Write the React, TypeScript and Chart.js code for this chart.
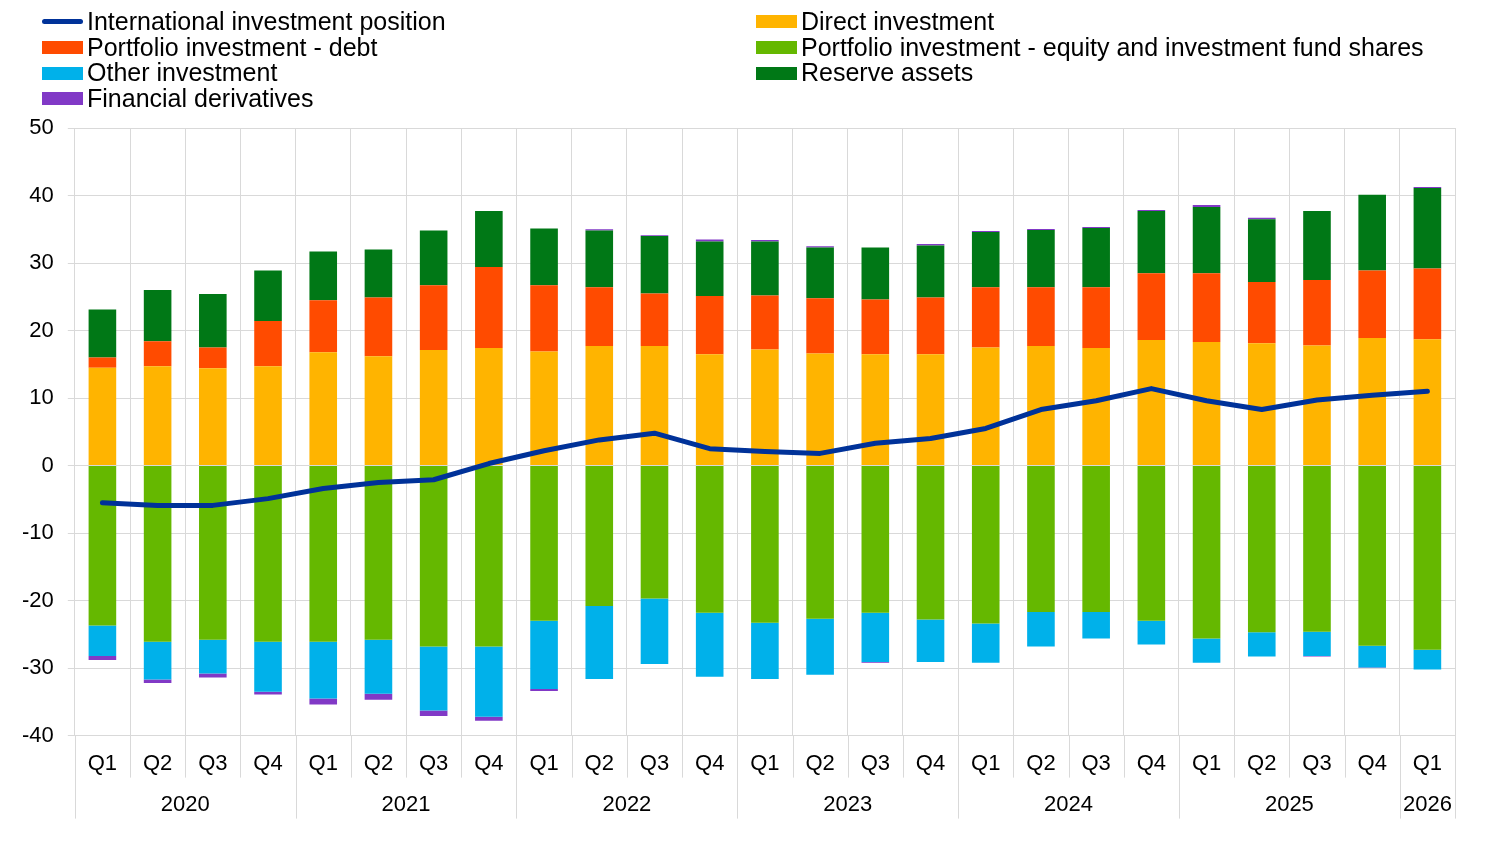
import { useEffect, useRef } from 'react'
import { Chart, registerables } from 'chart.js'

Chart.register(...registerables)

const FONT = '"Liberation Sans", Arial, sans-serif'

const quarters = [
  'Q1', 'Q2', 'Q3', 'Q4', 'Q1', 'Q2', 'Q3', 'Q4', 'Q1', 'Q2', 'Q3', 'Q4', 'Q1',
  'Q2', 'Q3', 'Q4', 'Q1', 'Q2', 'Q3', 'Q4', 'Q1', 'Q2', 'Q3', 'Q4', 'Q1',
]
const years = ['2020', '2021', '2022', '2023', '2024', '2025', '2026']

const iip = [
  -5.5, -5.9, -5.9, -4.9, -3.4, -2.5, -2.1, 0.3, 2.2, 3.8, 4.8, 2.5, 2.1,
  1.8, 3.3, 4.0, 5.5, 8.3, 9.6, 11.4, 9.6, 8.3, 9.7, 10.4, 11.0,
]
const directInv = [
  14.5, 14.7, 14.4, 14.7, 16.8, 16.2, 17.1, 17.4, 16.9, 17.7, 17.7, 16.5, 17.2,
  16.6, 16.5, 16.5, 17.5, 17.7, 17.4, 18.6, 18.3, 18.1, 17.8, 18.9, 18.7,
]
const portDebt = [
  1.5, 3.7, 3.1, 6.7, 7.7, 8.7, 9.6, 12.0, 9.8, 8.7, 7.8, 8.6, 8.0,
  8.2, 8.1, 8.4, 8.9, 8.7, 9.0, 9.9, 10.2, 9.1, 9.7, 10.0, 10.5,
]
const portEquity = [
  -23.7, -26.1, -25.8, -26.1, -26.1, -25.8, -26.8, -26.8, -23.0, -20.8, -19.7, -21.8, -23.3,
  -22.7, -21.8, -22.8, -23.4, -21.7, -21.7, -23.0, -25.6, -24.7, -24.6, -26.7, -27.3,
]
const otherInv = [
  -4.5, -5.6, -5.0, -7.4, -8.4, -8.0, -9.5, -10.4, -10.1, -10.8, -9.7, -9.5, -8.3,
  -8.3, -7.3, -6.3, -5.8, -5.1, -3.9, -3.5, -3.6, -3.6, -3.6, -3.2, -2.9,
]
const reserves = [
  7.1, 7.6, 7.9, 7.5, 7.2, 7.1, 8.1, 8.3, 8.4, 8.4, 8.5, 8.1, 8.0,
  7.5, 7.7, 7.7, 8.2, 8.5, 8.8, 9.2, 9.8, 9.3, 10.2, 11.2, 11.9,
]
const derivatives = [
  -0.6, -0.5, -0.6, -0.4, -0.9, -0.9, -0.8, -0.6, -0.3, 0.2, 0.1, 0.3, 0.2,
  0.2, -0.1, 0.2, 0.15, 0.15, 0.15, 0.15, 0.3, 0.2, -0.1, -0.1, 0.15,
]

const legendItems = [
  { label: 'International investment position', color: '#003299', line: true },
  { label: 'Direct investment', color: '#FFB400' },
  { label: 'Portfolio investment - debt', color: '#FF4B00' },
  { label: 'Portfolio investment - equity and investment fund shares', color: '#65B800' },
  { label: 'Other investment', color: '#00B1EA' },
  { label: 'Reserve assets', color: '#007816' },
  { label: 'Financial derivatives', color: '#8139C6' },
]

const gridColor = '#d9d9d9'

// second level of the x axis: year labels and longer separators
const yearAxis = {
  id: 'yearAxis',
  afterDraw(chart: Chart) {
    const { ctx, chartArea } = chart
    const n = quarters.length
    const step = (chartArea.right - chartArea.left) / n
    ctx.save()
    ctx.strokeStyle = gridColor
    ctx.lineWidth = 1
    for (let i = 0; i <= n; i++) {
      const x = Math.round(chartArea.left + i * step) + 0.5
      const isYear = i % 4 === 0 || i === n
      ctx.beginPath()
      ctx.moveTo(x, chartArea.bottom)
      ctx.lineTo(x, isYear ? chartArea.bottom + 83 : chartArea.bottom + 42)
      ctx.stroke()
    }
    ctx.fillStyle = '#000'
    ctx.font = `22px ${FONT}`
    ctx.textAlign = 'center'
    ctx.textBaseline = 'middle'
    years.forEach((y, k) => {
      const first = k * 4
      const last = Math.min(first + 4, n)
      const cx = chartArea.left + ((first + last) / 2) * step
      ctx.fillText(y, cx, chartArea.bottom + 69)
    })
    ctx.restore()
  },
}

export default function App() {
  const chartRef = useRef<HTMLCanvasElement>(null)
  const chartInstance = useRef<Chart | null>(null)

  useEffect(() => {
    if (!chartRef.current) return
    if (chartInstance.current) chartInstance.current.destroy()

    const bar = (label: string, data: number[], color: string) => ({
      type: 'bar' as const,
      label,
      data,
      backgroundColor: color,
      borderWidth: 0,
      stack: 'bars',
      order: 1,
      barPercentage: 0.5,
      categoryPercentage: 1,
    })

    chartInstance.current = new Chart(chartRef.current, {
      type: 'bar',
      data: {
        labels: quarters,
        datasets: [
          {
            type: 'line',
            label: 'International investment position',
            data: iip,
            borderColor: '#003299',
            borderWidth: 5,
            borderCapStyle: 'round',
            borderJoinStyle: 'round',
            pointRadius: 0,
            tension: 0,
            stack: 'line',
            order: 0,
          },
          bar('Direct investment', directInv, '#FFB400'),
          bar('Portfolio investment - debt', portDebt, '#FF4B00'),
          bar('Portfolio investment - equity and investment fund shares', portEquity, '#65B800'),
          bar('Other investment', otherInv, '#00B1EA'),
          bar('Reserve assets', reserves, '#007816'),
          bar('Financial derivatives', derivatives, '#8139C6'),
        ] as any,
      },
      options: {
        responsive: false,
        animation: false,
        layout: { padding: { left: 8, right: 45, top: 128, bottom: 63 } },
        plugins: {
          legend: { display: false },
          tooltip: { enabled: false },
        },
        scales: {
          x: {
            stacked: true,
            border: { display: false },
            grid: { color: gridColor, drawTicks: false, offset: true },
            ticks: { color: '#000', padding: 15, font: { family: FONT, size: 22 } },
          },
          y: {
            stacked: true,
            min: -40,
            max: 50,
            border: { display: false },
            grid: { color: gridColor, tickLength: 7 },
            ticks: {
              stepSize: 10,
              color: '#000',
              padding: 14,
              font: { family: FONT, size: 22 },
            },
          },
        },
      },
      plugins: [yearAxis],
    })

    return () => {
      if (chartInstance.current) {
        chartInstance.current.destroy()
        chartInstance.current = null
      }
    }
  }, [])

  return (
    <div
      style={{
        position: 'fixed',
        top: 0,
        left: 0,
        width: 1500,
        height: 855,
        background: '#fff',
        fontFamily: FONT,
      }}
    >
      <canvas ref={chartRef} width={1500} height={855} />
      <div
        style={{
          position: 'absolute',
          top: 9,
          left: 42,
          display: 'grid',
          gridTemplateColumns: '714px auto',
          gridAutoRows: '25.7px',
          fontSize: 25,
          lineHeight: '25.7px',
          color: '#000',
        }}
      >
        {legendItems.map((it) => (
          <div key={it.label} style={{ display: 'flex', alignItems: 'center', whiteSpace: 'nowrap' }}>
            <span
              style={{
                display: 'inline-block',
                width: 41,
                height: it.line ? 5 : 13,
                borderRadius: it.line ? 3 : 0,
                background: it.color,
                marginRight: 4,
              }}
            />
            {it.label}
          </div>
        ))}
      </div>
    </div>
  )
}
